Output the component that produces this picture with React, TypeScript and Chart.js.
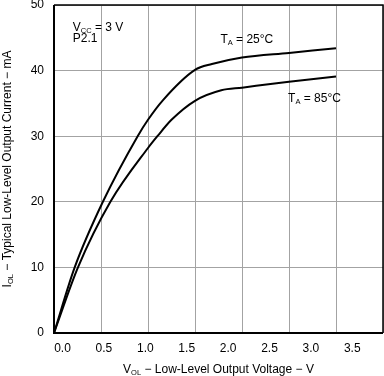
import React, { useEffect, useRef } from "react";
import { Chart, registerables } from "chart.js";

Chart.register(...registerables);

// ---- data (V_OL in volts, I_OL in mA) ----
const voltage25 = [0, 0.22, 0.52, 0.89, 1.0, 1.16, 1.5, 1.68, 2.0, 2.5, 3.0];
const current25 = [0, 10, 20, 30, 32.5, 35.5, 40.1, 41.0, 42.0, 42.7, 43.4];
const voltage85 = [0, 0.255, 0.6, 1.0, 1.1, 1.25, 1.5, 1.78, 2.0, 2.5, 3.0];
const current85 = [0, 10, 20, 28.2, 30, 32.5, 35.4, 37.0, 37.4, 38.3, 39.1];

const gridValues = [0, 0.5, 1.0, 1.5, 2.0, 2.5, 3.0, 3.5];
const xTickValues = [0, 0.5, 1.0, 1.5, 2.0, 2.5, 3.0, 3.5];
const yTickValues = [0, 10, 20, 30, 40, 50];

type Seg = { t: string; sub?: boolean };

const xTitle: Seg[] = [
  { t: "V" },
  { t: "OL", sub: true },
  { t: " \u2212 Low-Level Output Voltage \u2212 V" },
];
const yTitle: Seg[] = [
  { t: "I" },
  { t: "OL", sub: true },
  { t: " \u2212 Typical Low-Level Output Current \u2212 mA" },
];

const noteLabels: Seg[][] = [
  [{ t: "V" }, { t: "CC", sub: true }, { t: " = 3 V" }],
  [{ t: "P2.1" }],
  [{ t: "T" }, { t: "A", sub: true }, { t: " = 25\u00B0C" }],
  [{ t: "T" }, { t: "A", sub: true }, { t: " = 85\u00B0C" }],
];
const noteX = [0.2, 0.2, 1.77, 2.49];
const noteY = [46.0, 44.4, 44.2, 35.26];

const FONT = '"Liberation Sans", Arial, sans-serif';

function drawRich(
  ctx: CanvasRenderingContext2D,
  segs: Seg[],
  x: number,
  y: number,
  align: "left" | "center"
) {
  const main = `12px ${FONT}`;
  const small = `7.5px ${FONT}`;
  let w = 0;
  for (const s of segs) {
    ctx.font = s.sub ? small : main;
    w += ctx.measureText(s.t).width;
  }
  let cx = align === "center" ? x - w / 2 : x;
  ctx.textAlign = "left";
  ctx.textBaseline = "alphabetic";
  ctx.fillStyle = "#000";
  for (const s of segs) {
    ctx.font = s.sub ? small : main;
    ctx.fillText(s.t, cx, s.sub ? y + 2 : y);
    cx += ctx.measureText(s.t).width;
  }
}

const decorPlugin = {
  id: "decor",
  afterDraw(chart: any) {
    const ctx: CanvasRenderingContext2D = chart.ctx;
    const { left, right, top, bottom } = chart.chartArea;
    const xs = chart.scales.x;
    const ys = chart.scales.y;
    ctx.save();
    // frame
    ctx.strokeStyle = "#000";
    ctx.lineWidth = 1.5;
    ctx.beginPath();
    ctx.moveTo(left, top);
    ctx.lineTo(right, top);
    ctx.lineTo(right, bottom);
    ctx.stroke();
    ctx.lineWidth = 2;
    ctx.beginPath();
    ctx.moveTo(left, top);
    ctx.lineTo(left, bottom);
    ctx.lineTo(right, bottom);
    ctx.stroke();
    // notes
    noteLabels.forEach((segs, i) => {
      drawRich(ctx, segs, xs.getPixelForValue(noteX[i]), ys.getPixelForValue(noteY[i]), "left");
    });
    // axis titles
    drawRich(ctx, xTitle, (left + right) / 2, 373, "center");
    ctx.translate(10.5, (top + bottom) / 2);
    ctx.rotate(-Math.PI / 2);
    drawRich(ctx, yTitle, 0, 0, "center");
    ctx.restore();
  },
};

export default function App() {
  const ref = useRef<HTMLCanvasElement | null>(null);

  useEffect(() => {
    document.body.style.margin = "0";
    const canvas = ref.current;
    if (!canvas) return;
    const chart = new Chart(canvas, {
      type: "line",
      data: {
        datasets: [
          {
            label: "TA = 25°C",
            data: voltage25.map((v, i) => ({ x: v, y: current25[i] })),
            borderColor: "#000",
            borderWidth: 2,
            pointRadius: 0,
            fill: false,
            cubicInterpolationMode: "monotone",
            xAxisID: "x",
            yAxisID: "y",
          },
          {
            label: "TA = 85°C",
            data: voltage85.map((v, i) => ({ x: v, y: current85[i] })),
            borderColor: "#000",
            borderWidth: 2,
            pointRadius: 0,
            fill: false,
            cubicInterpolationMode: "monotone",
            xAxisID: "x",
            yAxisID: "y",
          },
        ],
      },
      options: {
        animation: false,
        responsive: false,
        events: [],
        layout: { padding: { top: 5, right: 1, left: 0, bottom: 0 } },
        plugins: {
          legend: { display: false },
          tooltip: { enabled: false },
        },
        scales: {
          x: {
            type: "linear",
            position: "bottom",
            min: 0,
            max: 3.5,
            weight: 2,
            afterBuildTicks: (s: any) => {
              s.ticks = gridValues.map((v) => ({ value: v }));
            },
            afterFit: (s: any) => {
              s.height = 0;
              s.paddingLeft = 0;
              s.paddingRight = 0;
            },
            ticks: { display: false },
            grid: { color: "#a3a3a3", lineWidth: 1, drawTicks: false },
            border: { display: false },
          },
          x2: {
            type: "linear",
            position: "bottom",
            min: -0.103,
            max: 3.871,
            weight: 1,
            afterBuildTicks: (s: any) => {
              s.ticks = xTickValues.map((v) => ({ value: v }));
            },
            afterFit: (s: any) => {
              s.height = 43;
              s.paddingLeft = 0;
              s.paddingRight = 0;
            },
            ticks: {
              color: "#000",
              padding: 8,
              maxRotation: 0,
              font: { family: FONT, size: 12 },
              callback: (v: any) => Number(v).toFixed(1),
            },
            grid: { display: false, drawTicks: false },
            border: { display: false },
          },
          y: {
            type: "linear",
            position: "left",
            min: 0,
            max: 50,
            afterBuildTicks: (s: any) => {
              s.ticks = yTickValues.map((v) => ({ value: v }));
            },
            afterFit: (s: any) => {
              s.width = 54;
              s.paddingTop = 0;
              s.paddingBottom = 0;
            },
            ticks: {
              color: "#000",
              padding: 10,
              font: { family: FONT, size: 12 },
              callback: (v: any) => String(v),
            },
            grid: { color: "#a3a3a3", lineWidth: 1, drawTicks: false },
            border: { display: false },
          },
        },
      },
      plugins: [decorPlugin],
    } as any);
    return () => chart.destroy();
  }, []);

  return (
    <div style={{ width: 384, height: 376 }}>
      <canvas ref={ref} width={384} height={376} style={{ display: "block" }} />
    </div>
  );
}
